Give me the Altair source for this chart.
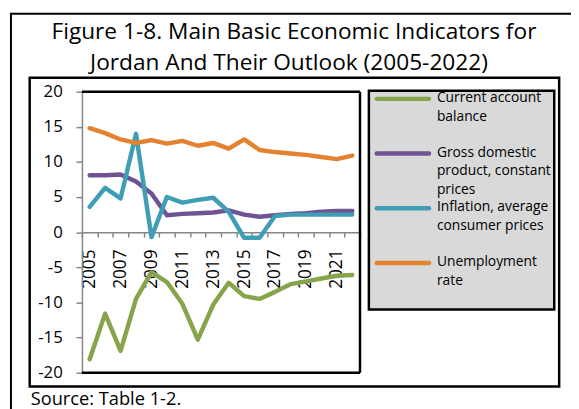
import altair as alt
import pandas as pd

# ---------------- data ----------------
years = list(range(2005, 2023))
current_account = [-18.1, -11.6, -16.9, -9.5, -5.7, -7.1, -10.2, -15.3, -10.3, -7.2,
                   -9.1, -9.5, -8.5, -7.4, -7.0, -6.6, -6.2, -6.1]
gdp_growth = [8.1, 8.1, 8.2, 7.2, 5.5, 2.4, 2.6, 2.7, 2.8, 3.1,
              2.5, 2.2, 2.4, 2.6, 2.7, 2.9, 3.0, 3.0]
inflation = [3.6, 6.3, 4.8, 14.0, -0.7, 5.0, 4.2, 4.6, 4.9, 2.9,
             -0.8, -0.8, 2.3, 2.5, 2.5, 2.5, 2.5, 2.5]
unemployment = [14.8, 14.1, 13.2, 12.7, 13.1, 12.6, 13.0, 12.3, 12.7, 11.9,
                13.2, 11.7, 11.4, 11.2, 11.0, 10.7, 10.4, 10.9]

series_names = ["Current account balance",
                "Gross domestic product, constant prices",
                "Inflation, average consumer prices",
                "Unemployment rate"]
legend_labels = ["Current account|balance",
                 "Gross domestic|product, constant|prices",
                 "Inflation, average|consumer prices",
                 "Unemployment|rate"]
colors = ["#86A44A", "#6F5393", "#3F9EB5", "#E3822F"]
y_ticks = [-20, -15, -10, -5, 0, 5, 10, 15, 20]

title_line1 = "Figure 1-8. Main Basic Economic Indicators for"
title_line2 = "Jordan And Their Outlook (2005-2022)"
source_text = "Source: Table 1-2."

values = [current_account, gdp_growth, inflation, unemployment]
rows = []
for name, vals in zip(series_names, values):
    for yr, v in zip(years, vals):
        rows.append({"year": yr, "series": name, "value": v})
df = pd.DataFrame(rows)

legend_df = pd.DataFrame({"series": series_names, "label": legend_labels,
                          "idx": list(range(len(series_names)))})
dummy = pd.DataFrame({"a": [0]})

FONT = "Open Sans"
W, H = 282, 285
GRAY = "#868686"

color_enc = alt.Color("series:N", scale=alt.Scale(domain=series_names, range=colors), legend=None)

# ---------------- decorations ----------------
base = alt.Chart(dummy)
outer_top = base.mark_rule(color="black", strokeWidth=2).encode(
    x=alt.value(-72), x2=alt.value(500), y=alt.value(-79))
outer_left = base.mark_rule(color="black", strokeWidth=2).encode(
    x=alt.value(-72), y=alt.value(-80), y2=alt.value(330))
chart_box = base.mark_rect(fill="white", fillOpacity=0, stroke="black", strokeWidth=2.5).encode(
    x=alt.value(-53), x2=alt.value(484), y=alt.value(-14), y2=alt.value(299))
frame_top = base.mark_rule(color="black", strokeWidth=2.5).encode(
    x=alt.value(0), x2=alt.value(W), y=alt.value(0))
frame_right = base.mark_rule(color="black", strokeWidth=2.5).encode(
    x=alt.value(W), y=alt.value(0), y2=alt.value(H))
frame_bottom = base.mark_rule(color="black", strokeWidth=2.5).encode(
    x=alt.value(0), x2=alt.value(W), y=alt.value(H))

t1 = base.mark_text(font=FONT, fontSize=23, align="center", baseline="alphabetic", color="black").encode(
    x=alt.value(215), y=alt.value(-53), text=alt.value(title_line1))
t2 = base.mark_text(font=FONT, fontSize=23, align="center", baseline="alphabetic", color="black").encode(
    x=alt.value(210), y=alt.value(-22), text=alt.value(title_line2))
src = base.mark_text(font=FONT, fontSize=18.5, align="left", baseline="alphabetic", color="black").encode(
    x=alt.value(-52), y=alt.value(318), text=alt.value(source_text))

# ---------------- data lines ----------------
lines = alt.Chart(df).mark_line(strokeWidth=4.5, strokeCap="round", strokeJoin="round").encode(
    x=alt.X("year:O", bandPosition=0.5,
            scale=alt.Scale(type="band", paddingInner=0, paddingOuter=0),
            axis=alt.Axis(title=None, labelAngle=270, tickBand="extent",
                          labelExpr="datum.value % 2 == 1 ? datum.label : ''",
                          labelOverlap=False, offset=-142.5,
                          labelFont=FONT, labelFontSize=17.5, labelColor="black",
                          labelPadding=12, tickSize=5, tickColor=GRAY, tickWidth=1.5,
                          domainColor=GRAY, domainWidth=1.5)),
    y=alt.Y("value:Q", scale=alt.Scale(domain=[-20, 20], nice=False, zero=False),
            axis=alt.Axis(title=None, values=y_ticks, grid=False,
                          labelExpr="'' + datum.value",
                          labelFont=FONT, labelFontSize=17, labelColor="black",
                          labelPadding=14, tickSize=6, tickColor=GRAY, tickWidth=1.5,
                          domainColor=GRAY, domainWidth=1.5)),
    color=color_enc,
)

# ---------------- legend ----------------
legend_bg = base.mark_rect(fill="#d9d9d9", stroke="black", strokeWidth=2.5).encode(
    x=alt.value(291), x2=alt.value(479), y=alt.value(-1), y2=alt.value(221))
leg = alt.Chart(legend_df).transform_calculate(py="7.3 + 55.5 * datum.idx")
leg_sym = leg.mark_rule(strokeWidth=4.5, strokeCap="round").encode(
    x=alt.value(299), x2=alt.value(352),
    y=alt.Y("py:Q", scale=None, axis=None),
    color=color_enc)
leg_txt = leg.mark_text(font=FONT, fontSize=14, align="left", baseline="top",
                        lineBreak="|", lineHeight=19, dy=-8, color="black").encode(
    x=alt.value(360),
    y=alt.Y("py:Q", scale=None, axis=None),
    text="label:N")

chart = alt.layer(
    outer_top, outer_left, chart_box, frame_top, frame_right, frame_bottom,
    t1, t2, src, lines, legend_bg, leg_sym, leg_txt
).resolve_scale(y="independent").properties(
    width=W, height=H,
    autosize=alt.AutoSizeParams(type="none"),
    padding={"left": 75, "top": 82, "right": 214, "bottom": 34},
    background="white",
).configure_view(stroke="transparent")

chart.save("out.html", embed_options={"renderer": "svg", "actions": False})
